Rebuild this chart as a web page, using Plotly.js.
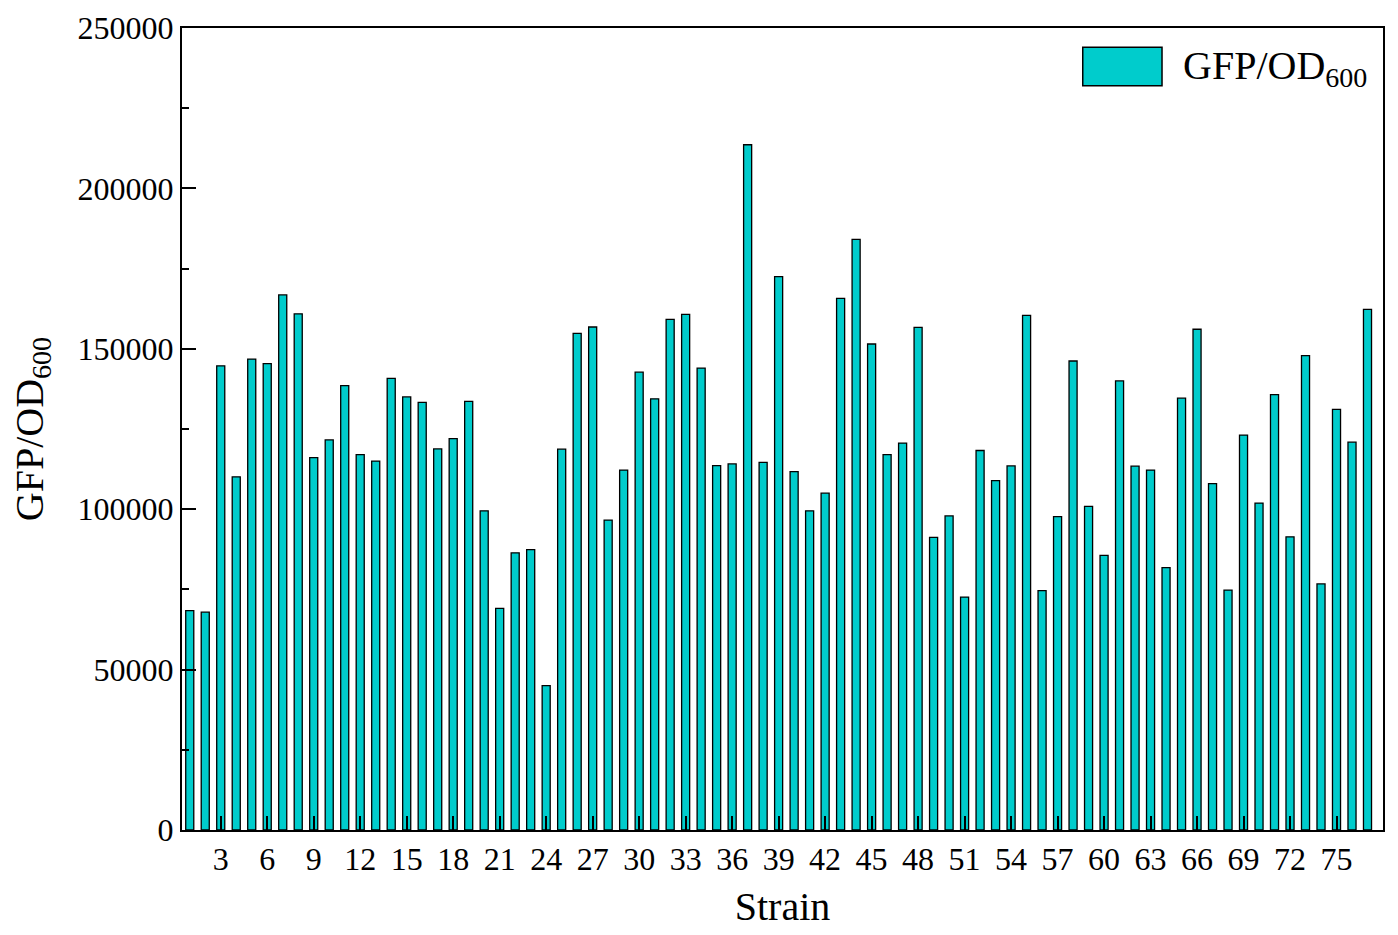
<!DOCTYPE html>
<html>
<head>
<meta charset="utf-8">
<script src="https://cdn.plot.ly/plotly-3.0.1.min.js"></script>
<style>
  html, body { margin: 0; padding: 0; background: #fff; }
  #chart { width: 1398px; height: 935px; }
</style>
</head>
<body>
<div id="chart"></div>
<script>
/* ── GFP/OD600 per strain (bar chart) ── */

const STRAINS = [
    1, 2, 3, 4, 5, 6, 7, 8, 9, 10, 11, 12, 13, 14, 15, 16, 17, 18, 19, 20,
    21, 22, 23, 24, 25, 26, 27, 28, 29, 30, 31, 32, 33, 34, 35, 36, 37, 38, 39, 40,
    41, 42, 43, 44, 45, 46, 47, 48, 49, 50, 51, 52, 53, 54, 55, 56, 57, 58, 59, 60,
    61, 62, 63, 64, 65, 66, 67, 68, 69, 70, 71, 72, 73, 74, 75, 76, 77,
];

const GFP_OD600 = [
    68400, 67900, 144700, 110100, 146800, 145400, 166800, 160900, 116100, 121600,
    138500, 117000, 115000, 140800, 135000, 133300, 118800, 122000, 133600, 99500,
    69100, 86400, 87400, 45000, 118700, 154800, 156800, 96600, 112200, 142700,
    134400, 159200, 160700, 144000, 113600, 114100, 213600, 114600, 172500, 111700,
    99500, 105000, 165700, 184100, 151500, 117000, 120600, 156700, 91200, 97900,
    72600, 118300, 108900, 113500, 160400, 74600, 97700, 146200, 100900, 85600,
    140000, 113400, 112200, 81800, 134600, 156100, 108000, 74800, 123100, 101900,
    135700, 91400, 147900, 76700, 131100, 120900, 162300,
];

const X_TICKS = [3, 6, 9, 12, 15, 18, 21, 24, 27, 30, 33, 36, 39, 42, 45, 48, 51, 54, 57, 60, 63, 66, 69, 72, 75];
const Y_TICKS = [0, 50000, 100000, 150000, 200000, 250000];

const BAR_COLOR = '#00CCCC';
const FONT = 'Liberation Serif, Times New Roman, serif';

const trace = {
    type: 'bar',
    x: STRAINS,
    y: GFP_OD600,
    width: 0.52,
    marker: { color: BAR_COLOR, line: { color: '#000', width: 1.3 } },
    name: 'GFP/OD<sub>600</sub>',
    showlegend: false,
    hoverinfo: 'x+y',
};

const axisCommon = {
    showline: true, linecolor: '#000', linewidth: 2, mirror: true,
    showgrid: false, zeroline: false,
    ticks: 'inside', ticklen: 14, tickwidth: 2, tickcolor: '#000',
    tickfont: { family: FONT, size: 32, color: '#000' },
};

const layout = {
    width: 1398, height: 935,
    margin: { l: 182, r: 15, t: 28, b: 105 },
    paper_bgcolor: '#fff', plot_bgcolor: '#fff',
    font: { family: FONT, color: '#000' },
    xaxis: {
        ...axisCommon,
        range: [0.5, 78],
        tickmode: 'array', tickvals: X_TICKS,
        title: { text: 'Strain', font: { family: FONT, size: 40, color: '#000' }, standoff: 16 },
    },
    yaxis: {
        ...axisCommon,
        range: [0, 250000],
        tickmode: 'array', tickvals: Y_TICKS, tickformat: 'd',
        minor: { ticks: 'inside', ticklen: 7, tickwidth: 2, tickcolor: '#000', dtick: 25000, showgrid: false },
        title: { text: 'GFP/OD<sub>600</sub>', font: { family: FONT, size: 40, color: '#000' }, standoff: 22 },
    },
    // legend box drawn by hand so the swatch matches the original size
    shapes: [{
        type: 'rect', xref: 'paper', yref: 'paper',
        x0: 0.750, x1: 0.816, y0: 0.928, y1: 0.976,
        fillcolor: BAR_COLOR, line: { color: '#000', width: 1.5 },
    }],
    annotations: [{
        xref: 'paper', yref: 'paper', x: 0.832, y: 0.950,
        xanchor: 'left', yanchor: 'middle', showarrow: false,
        text: 'GFP/OD<sub>600</sub>',
        font: { family: FONT, size: 40, color: '#000' },
    }],
};

Plotly.newPlot('chart', [trace], layout, { staticPlot: true });
</script>
</body>
</html>
